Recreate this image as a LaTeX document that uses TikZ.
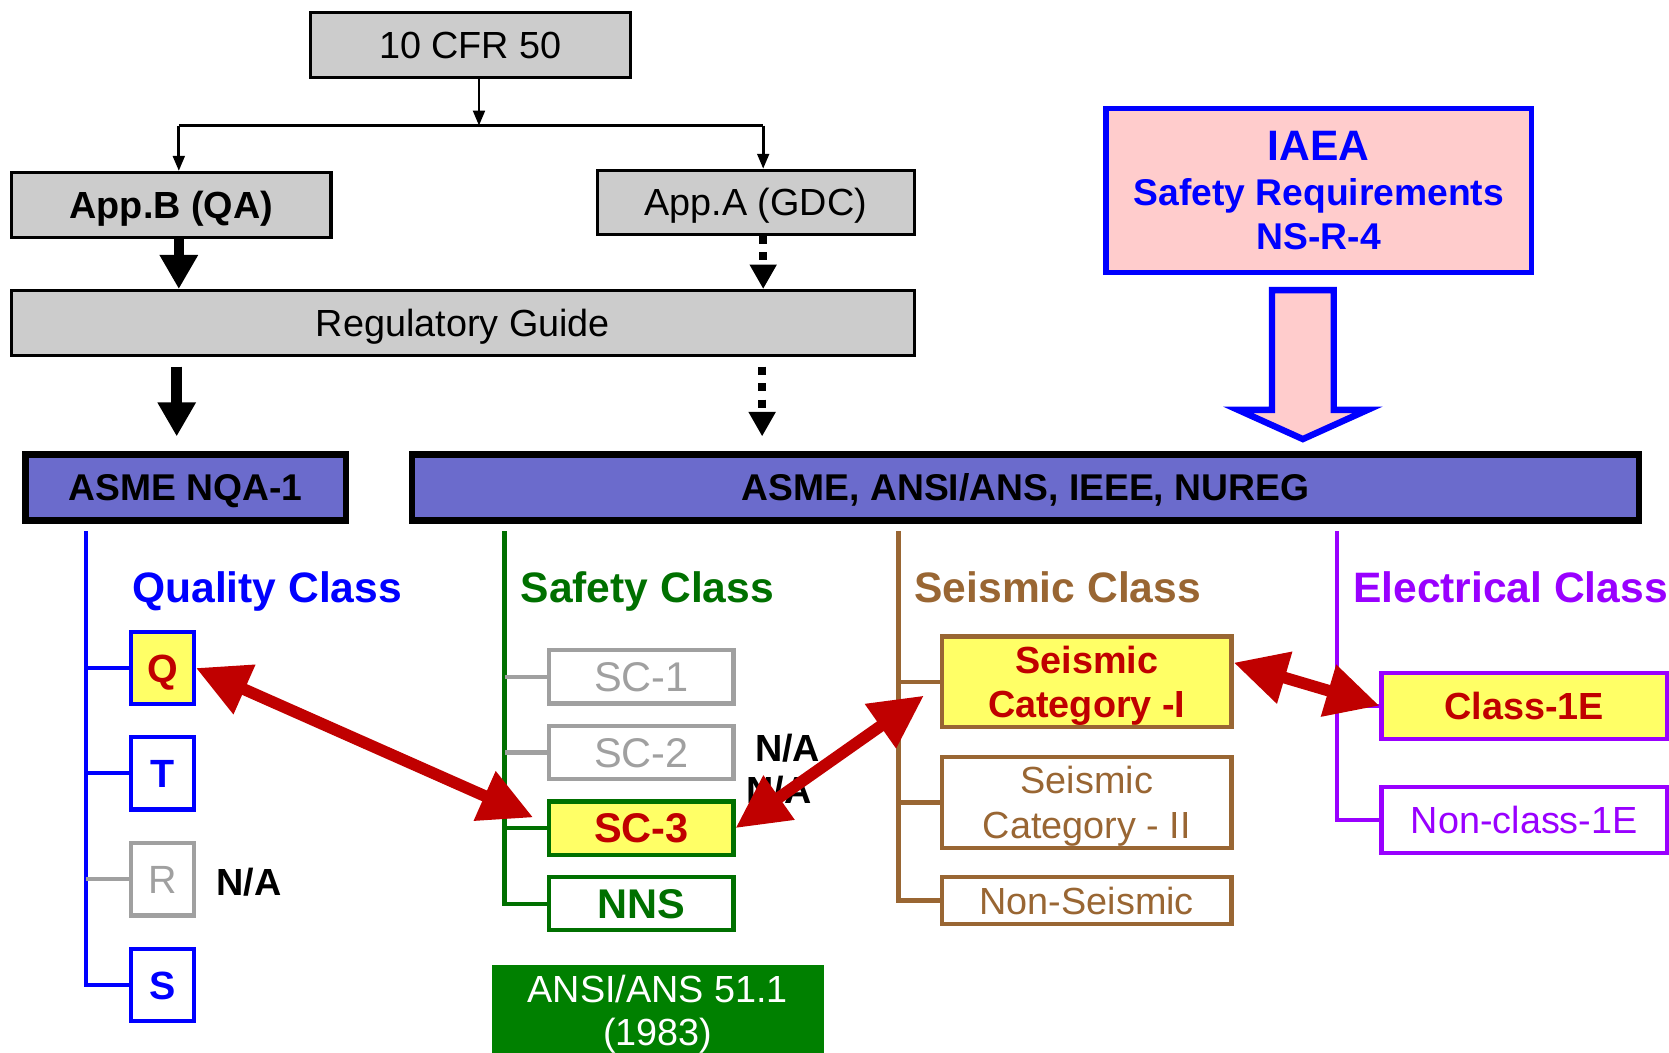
\documentclass[tikz,border=0pt]{standalone}
\usepackage{fontspec}
\setmainfont{Liberation Sans}
\usetikzlibrary{arrows.meta,calc}
\definecolor{boxgray}{RGB}{204,204,204}
\definecolor{asmefill}{RGB}{107,107,204}
\definecolor{iaeapink}{RGB}{255,204,204}
\definecolor{qblue}{RGB}{0,0,255}
\definecolor{sgreen}{RGB}{0,112,0}
\definecolor{ansigreen}{RGB}{0,128,0}
\definecolor{sbrown}{RGB}{153,102,51}
\definecolor{epurple}{RGB}{153,0,255}
\definecolor{hired}{RGB}{192,0,0}
\definecolor{hiyellow}{RGB}{255,255,102}
\definecolor{nagray}{RGB}{160,160,160}
\newcommand\fntMain{\fontsize{35.5}{42}\selectfont}
\newcommand\fntAsme{\bfseries\fontsize{35}{42}\selectfont}
\newcommand\fntTitle{\bfseries\fontsize{40}{46}\selectfont}
\newcommand\fntSc{\fontsize{39}{44}\selectfont}
\newcommand\fntQ{\bfseries\fontsize{37}{42}\selectfont}
\tikzset{
  graybox/.style={draw=black, line width=3pt, fill=boxgray, inner sep=0pt, font=\fntMain, text height=25.4pt, text depth=0pt},
  asmebox/.style={draw=black, line width=6pt, fill=asmefill, inner sep=0pt, font=\fntAsme, text height=25pt, text depth=0pt, minimum height=62pt},
  qbox/.style={line width=4pt, fill=white, inner sep=0pt, font=\fntQ, text height=26.5pt, text depth=0pt, minimum width=59pt, minimum height=68pt},
  scbox/.style={line width=4pt, fill=white, inner sep=0pt, font=\fntSc, text height=27.9pt, text depth=0pt, minimum width=173pt, minimum height=50pt},
  seisbox/.style={line width=4pt, draw=sbrown, fill=white, inner sep=0pt, font=\fntMain, align=center, text depth=0pt, minimum width=272pt},
  elbox/.style={line width=4pt, draw=epurple, fill=white, inner sep=0pt, font=\fntMain, text height=25.4pt, text depth=0pt, minimum width=268pt, minimum height=62pt},
  classtitle/.style={anchor=west, inner sep=0pt, font=\fntTitle, text height=28.6pt, text depth=0pt},
  natext/.style={inner sep=0pt, font=\bfseries\fntMain, text height=25.4pt, text depth=0pt},
  thinarrow/.style={draw=black, line width=2.5pt, -{Triangle[length=14pt,width=11pt]}},
  thickarrow/.style={draw=black, line width=10pt, -{Triangle[length=32pt,width=34pt]}},
  dotarrow/.style={draw=black, line width=7.5pt, dash pattern=on 7.5pt off 8pt, -{Triangle[length=23pt,width=24pt]}},
  redarrow/.style={draw=hired, line width=11pt, {Triangle[length=50pt,width=48pt]}-{Triangle[length=50pt,width=48pt]}},
  tree/.style={line width=4pt}
}
\begin{document}
\begin{tikzpicture}[x=1pt,y=-1pt]
\fill[white] (0,0) rectangle (1568,989);
\useasboundingbox (0,0) rectangle (1568,989);

% top regulatory boxes
\node[graybox, minimum width=300pt, minimum height=61pt] (cfr) at (442,42) {10 CFR 50};
\node[graybox, minimum width=300pt, minimum height=61pt, font=\bfseries\fntMain] (appb) at (161,192.5) {App.B (QA)};
\node[graybox, minimum width=298pt, minimum height=60pt] (appa) at (710,190) {App.A (GDC)};
\node[graybox, minimum width=848pt, minimum height=61pt] (rg) at (435,303.5) {Regulatory Guide};

\node[asmebox, minimum width=301pt] (nqa) at (174.5,458) {ASME NQA-1};
\node[asmebox, minimum width=1153pt] (asme) at (963.5,458) {ASME, ANSI/ANS, IEEE, NUREG};

% IAEA
\node[draw=qblue, line width=5pt, fill=iaeapink, minimum width=400pt, minimum height=154pt,
      align=center, text=qblue, font=\bfseries\fontsize{35}{42}\selectfont, text depth=0pt, inner sep=0pt]
      (iaea) at (1239,179) {{\fontsize{40}{44}\selectfont IAEA}\\Safety Requirements\\NS-R-4};
\draw[draw=qblue, line width=6pt, fill=iaeapink, line join=miter]
  (1195,272.5) -- (1253,272.5) -- (1253,385) -- (1285,385) -- (1224,412.5) -- (1163,385) -- (1195,385) -- cycle;

% connectors at top
\coordinate (split) at (450,118);
\coordinate (lt) at (168,118);
\coordinate (rt) at (717,118);
\draw[thinarrow] (split |- cfr.south) -- (split);
\draw[line width=2.5pt] (lt) -- (rt);
\draw[thinarrow] (lt) -- (lt |- appb.north);
\draw[thinarrow] (rt) -- (rt |- appa.north);
\draw[thickarrow] (lt |- appb.south) -- (lt |- rg.north);
\draw[dotarrow] (rt |- appa.south) -- (rt |- rg.north);
\coordinate (bl) at (166,0);
\coordinate (br) at (716,0);
\draw[thickarrow, shorten <=9pt, shorten >=14pt] (bl |- rg.south) -- (bl |- nqa.north);
\draw[dotarrow, shorten <=9pt, shorten >=14pt] (br |- rg.south) -- (br |- asme.north);

% class titles
\node[classtitle, text=qblue] (qtitle) at (124,552) {Quality Class};
\node[classtitle, text=sgreen] (stitle) at (489,552) {Safety Class};
\node[classtitle, text=sbrown] (setitle) at (859,552) {Seismic Class};
\node[classtitle, text=epurple] (etitle) at (1271,552) {Electrical Class};

% quality class
\node[qbox, draw=qblue, fill=hiyellow, text=hired] (q) at (152.5,627.5) {Q};
\node[qbox, draw=qblue, text=qblue] (t) at (152.5,726.5) {T};
\node[qbox, draw=nagray, text=nagray, font=\fontsize{37}{42}\selectfont] (r) at (152.5,826) {R};
\node[qbox, draw=qblue, text=qblue] (s) at (152.5,925.5) {S};
\coordinate (qtop) at (81,499);
\draw[tree, qblue] (qtop) |- (s.west);
\draw[tree, qblue] (q.west) -- (q.west -| qtop);
\draw[tree, qblue] (t.west) -- (t.west -| qtop);
\draw[tree, nagray] (r.west) -- (r.west -| qtop);
\node[natext] (na1) at (234,829) {N/A};

% safety class
\node[scbox, draw=nagray, text=nagray] (sc1) at (602.5,636) {SC-1};
\node[scbox, draw=nagray, text=nagray] (sc2) at (602.5,707) {SC-2};
\node[scbox, draw=sgreen, fill=hiyellow, text=hired, font=\bfseries\fntSc] (sc3) at (602.5,778) {SC-3};
\node[scbox, draw=sgreen, text=sgreen, font=\bfseries\fntSc] (nns) at (602.5,849) {NNS};
\coordinate (stop) at (474,499);
\draw[tree, sgreen] (stop) |- (nns.west);
\draw[tree, nagray] (sc1.west) -- (sc1.west -| stop);
\draw[tree, nagray] (sc2.west) -- (sc2.west -| stop);
\draw[tree, sgreen] (sc3.west) -- (sc3.west -| stop);
\node[fill=ansigreen, text=white, inner sep=0pt, minimum width=312pt, minimum height=84pt, align=center,
      font=\fontsize{35.5}{41}\selectfont, text depth=0pt] (ansi) at (618,949) {ANSI/ANS 51.1\\(1983)};
\node[natext] (na2) at (740,703) {N/A};
\node[natext] (na3) at (732,742) {N/A};

% seismic class
\node[seisbox, fill=hiyellow, text=hired, font=\bfseries\fntMain, minimum height=85pt] (sci) at (1021,640.5) {Seismic\\Category -I};
\node[seisbox, text=sbrown, minimum height=86pt] (scii) at (1021,754) {Seismic\\Category - II};
\node[seisbox, text=sbrown, minimum height=44pt, text height=25.4pt] (nons) at (1021,846) {Non-Seismic};
\coordinate (setop) at (844,499);
\draw[tree, sbrown] (setop) |- (nons.west);
\draw[tree, sbrown] (sci.west) -- (sci.west -| setop);
\draw[tree, sbrown] (scii.west) -- (scii.west -| setop);

% electrical class
\node[elbox, fill=hiyellow, text=hired, font=\bfseries\fntMain] (c1e) at (1432,663) {Class-1E};
\node[elbox, text=epurple] (nc1e) at (1432,770.5) {Non-class-1E};
\coordinate (etop) at (1256,499);
\draw[tree, epurple] (etop) |- (nc1e.west);
\draw[tree, epurple] (c1e.west) -- (c1e.west -| etop);

% red double arrows
\draw[redarrow] (q.east) -- ($(sc3.west)+(-13,-10)$);
\draw[redarrow] (sc3.east) -- ($(sci.west)+(-15,13)$);
\draw[redarrow] ($(sci.east)+(0,-18)$) -- (c1e.west);
\end{tikzpicture}
\end{document}
